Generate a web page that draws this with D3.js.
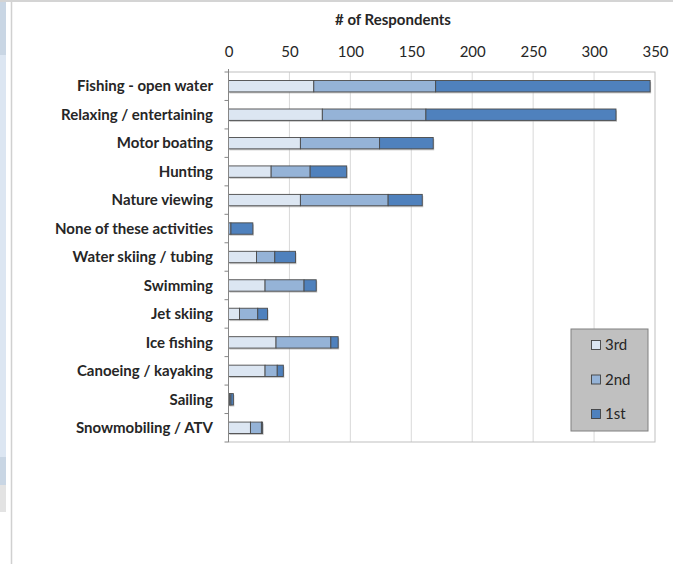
<!DOCTYPE html>
<html>
<head>
<meta charset="utf-8">
<script src="https://cdn.jsdelivr.net/npm/d3@7"></script>
<style>
  html, body { margin: 0; padding: 0; background: #fff; }
  svg { display: block; }
  text { font-family: Lato, "Open Sans", sans-serif; fill: #262626; }
</style>
</head>
<body>
<div id="chart"></div>
<script>
// activities, top to bottom
const categories = [
    'Fishing - open water', 'Relaxing / entertaining', 'Motor boating', 'Hunting',
    'Nature viewing', 'None of these activities', 'Water skiing / tubing', 'Swimming',
    'Jet skiing', 'Ice fishing', 'Canoeing / kayaking', 'Sailing', 'Snowmobiling / ATV'
];
const seriesNames = ['3rd', '2nd', '1st'];
const third  = [70, 77, 59, 35, 59, 0, 23, 30, 9, 39, 30, 1, 18];
const second = [100, 85, 65, 32, 72, 2, 15, 32, 15, 45, 10, 1, 9];
const first  = [176, 156, 44, 30, 28, 18, 17, 10, 8, 6, 5, 2, 1];
const xTicks = [0, 50, 100, 150, 200, 250, 300, 350];

const width = 673, height = 564;
const plot = { left: 228.5, right: 655, top: 72, bottom: 442 };
const colors = { '3rd': '#dce6f2', '2nd': '#95b3d7', '1st': '#4f81bd' };

const svg = d3.select('#chart').append('svg')
    .attr('width', width)
    .attr('height', height);

// bits of the spreadsheet window around the chart
svg.append('rect').attr('x', 0).attr('y', 0).attr('width', 6).attr('height', 55).attr('fill', '#c9d6e4');
svg.append('rect').attr('x', 0).attr('y', 55).attr('width', 6).attr('height', 402).attr('fill', '#dce6f2');
svg.append('rect').attr('x', 0).attr('y', 457).attr('width', 6).attr('height', 28).attr('fill', '#c9d6e4');
svg.append('rect').attr('x', 0).attr('y', 485).attr('width', 6).attr('height', 27).attr('fill', '#e3e3e3');
svg.append('rect').attr('x', 0).attr('y', 0).attr('width', width).attr('height', 2).attr('fill', '#d4d4d4');
svg.append('line').attr('x1', 11.5).attr('x2', 11.5).attr('y1', 2).attr('y2', height)
    .attr('stroke', '#d0d0d0').attr('stroke-width', 1.5);

const x = d3.scaleLinear().domain([0, 350]).range([plot.left, plot.right]);
const y = d3.scaleBand().domain(categories).range([plot.top, plot.bottom])
    .paddingInner(0.6).paddingOuter(0.3);

// gridlines
svg.append('g').selectAll('line')
    .data(xTicks.filter(d => d > 0 && d < 350))
    .join('line')
    .attr('x1', d => x(d)).attr('x2', d => x(d))
    .attr('y1', plot.top).attr('y2', plot.bottom)
    .attr('stroke', '#d9d9d9').attr('stroke-width', 1);

// plot border
svg.append('rect')
    .attr('x', plot.left).attr('y', plot.top)
    .attr('width', plot.right - plot.left).attr('height', plot.bottom - plot.top)
    .attr('fill', 'none').attr('stroke', '#bfbfbf').attr('stroke-width', 1);

// top value axis
const xAxis = svg.append('g')
    .attr('transform', `translate(0, ${plot.top - 15})`)
    .call(d3.axisTop(x).tickValues(xTicks).tickSize(0).tickPadding(0));
xAxis.select('.domain').remove();
xAxis.selectAll('text')
    .attr('font-size', 15)
    .attr('font-family', 'Lato, sans-serif')
    .attr('fill', '#262626');

svg.append('text')
    .attr('x', 393).attr('y', 25)
    .attr('text-anchor', 'middle')
    .attr('font-size', 15)
    .attr('font-weight', 'bold')
    .text('# of Respondents');

// stacked bars
const rows = categories.map((c, i) => ({ cat: c, '3rd': third[i], '2nd': second[i], '1st': first[i] }));
const stacked = d3.stack().keys(seriesNames)(rows);

// soft shadow under each bar
svg.append('g').selectAll('rect')
    .data(rows)
    .join('rect')
    .attr('x', plot.left + 1)
    .attr('y', d => y(d.cat) + 1.5)
    .attr('width', d => x(d['3rd'] + d['2nd'] + d['1st']) - plot.left)
    .attr('height', y.bandwidth())
    .attr('fill', '#9a9a9a')
    .attr('opacity', 0.55);

svg.append('g').selectAll('g')
    .data(stacked)
    .join('g')
    .attr('fill', d => colors[d.key])
    .selectAll('rect')
    .data(d => d)
    .join('rect')
    .attr('x', d => x(d[0]))
    .attr('y', d => y(d.data.cat))
    .attr('width', d => Math.max(0, x(d[1]) - x(d[0])))
    .attr('height', y.bandwidth())
    .attr('stroke', '#4a4a4a')
    .attr('stroke-width', 0.9);

// category axis
svg.append('line')
    .attr('x1', plot.left).attr('x2', plot.left)
    .attr('y1', plot.top - 3).attr('y2', plot.bottom)
    .attr('stroke', '#868686').attr('stroke-width', 1);
svg.append('g').selectAll('line')
    .data(d3.range(categories.length + 1))
    .join('line')
    .attr('x1', plot.left - 4).attr('x2', plot.left)
    .attr('y1', i => plot.top + i * y.step()).attr('y2', i => plot.top + i * y.step())
    .attr('stroke', '#868686');

svg.append('g').selectAll('text')
    .data(categories)
    .join('text')
    .attr('x', 213)
    .attr('y', d => y(d) + y.bandwidth() / 2)
    .attr('dy', '0.35em')
    .attr('text-anchor', 'end')
    .attr('font-size', 15)
    .attr('font-weight', 'bold')
    .text(d => d);

// legend
const legend = svg.append('g').attr('transform', 'translate(571, 329)');
legend.append('rect')
    .attr('width', 77).attr('height', 102)
    .attr('fill', '#c0c0c0').attr('stroke', '#808080').attr('stroke-width', 1);
const legendY = d3.scalePoint().domain(seriesNames).range([16, 85]);
const items = legend.selectAll('g.item')
    .data(seriesNames)
    .join('g')
    .attr('class', 'item')
    .attr('transform', d => `translate(20, ${legendY(d)})`);
items.append('rect')
    .attr('x', 0.5).attr('y', -4.5)
    .attr('width', 9).attr('height', 9)
    .attr('fill', d => colors[d])
    .attr('stroke', '#404040').attr('stroke-width', 0.9);
items.append('text')
    .attr('x', 14).attr('dy', '0.36em')
    .attr('font-size', 15)
    .text(d => d);
</script>
</body>
</html>
